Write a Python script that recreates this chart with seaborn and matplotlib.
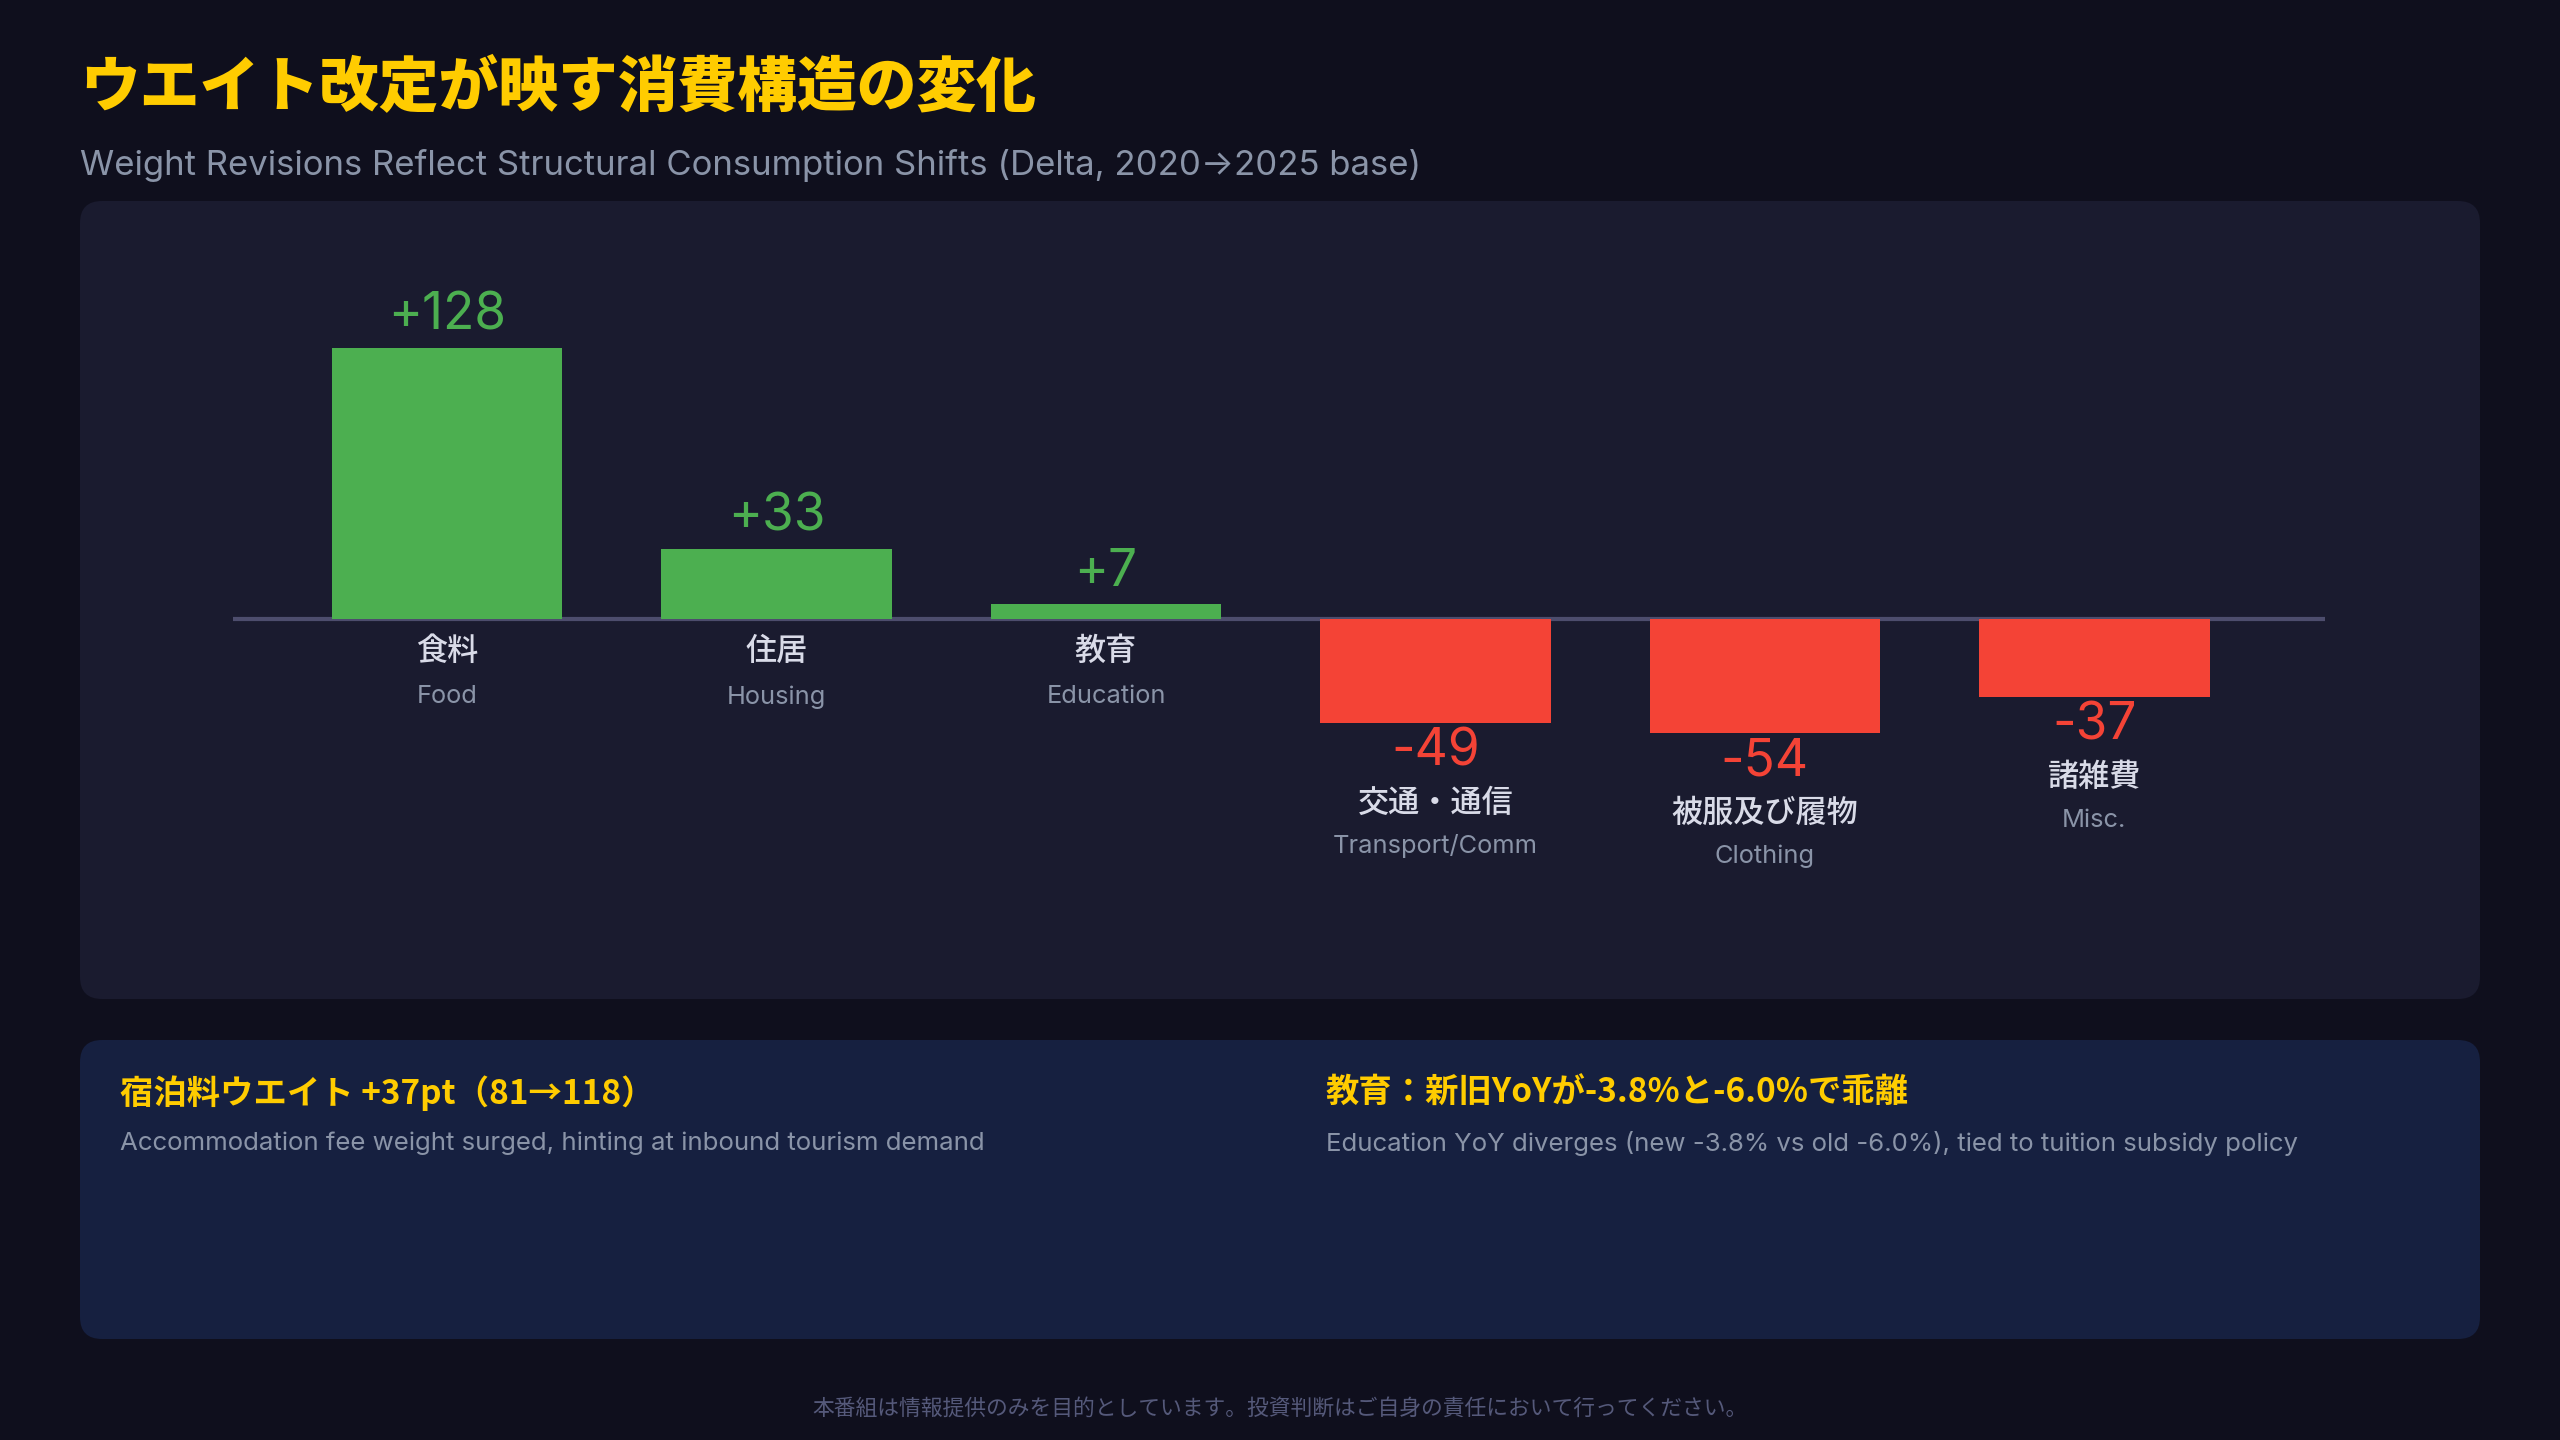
import matplotlib
matplotlib.use("Agg")
import matplotlib.pyplot as plt
from matplotlib.patches import FancyBboxPatch
import seaborn as sns
import pandas as pd

# ---- data ----
categories_jp = ["食料", "住居", "教育", "交通・通信", "被服及び履物", "諸雑費"]
categories_en = ["Food", "Housing", "Education", "Transport/Comm", "Clothing", "Misc."]
delta = [128, 33, 7, -49, -54, -37]

title = "ウエイト改定が映す消費構造の変化"
subtitle = "Weight Revisions Reflect Structural Consumption Shifts (Delta, 2020→2025 base)"
insight_heads = ["宿泊料ウエイト +37pt（81→118）", "教育：新旧YoYが-3.8%と-6.0%で乖離"]
insight_subs = ["Accommodation fee weight surged, hinting at inbound tourism demand",
                "Education YoY diverges (new -3.8% vs old -6.0%), tied to tuition subsidy policy"]
footer = "本番組は情報提供のみを目的としています。投資判断はご自身の責任において行ってください。"

BG = "#0f0f1d"
PANEL = "#1a1b2f"
PANEL2 = "#162040"
GREEN = "#4caf50"
RED = "#f44336"
YELLOW = "#ffcc00"
GREY = "#8a94a8"
LIGHT = "#d9dbe8"

sns.set_theme(style="white")
plt.rcParams["font.family"] = ["Noto Sans CJK JP", "DejaVu Sans"]
LAT = ["Inter", "Noto Sans CJK JP", "DejaVu Sans"]

fig = plt.figure(figsize=(25.6, 14.4), dpi=100)
fig.patch.set_facecolor(BG)

# background / panels in pixel coordinates
bg = fig.add_axes([0, 0, 1, 1])
bg.set_xlim(0, 2560)
bg.set_ylim(1440, 0)
bg.axis("off")
bg.add_patch(FancyBboxPatch((80, 201), 2400, 798, boxstyle="round,pad=0,rounding_size=22",
                            fc=PANEL, ec="none"))
bg.add_patch(FancyBboxPatch((80, 1040), 2400, 299, boxstyle="round,pad=0,rounding_size=22",
                            fc=PANEL2, ec="none"))

bg.text(80, 88, title, color=YELLOW, fontsize=43, fontweight="heavy", va="center", ha="left")
bg.text(80, 166, subtitle, color=GREY, fontsize=25, va="center", ha="left", family=LAT)

for i, (h, s) in enumerate(zip(insight_heads, insight_subs)):
    x0 = 120 if i == 0 else 1326
    bg.text(x0, 1093, h, color=YELLOW, fontsize=24, fontweight="bold", va="center", ha="left")
    bg.text(x0, 1143, s, color=GREY, fontsize=18.6, va="center", ha="left", family=LAT)

bg.text(1280, 1409, footer, color="#55597a", fontsize=15.7, va="center", ha="center")

# ---- bar chart ----
df = pd.DataFrame({"cat": categories_jp, "en": categories_en, "delta": delta})
df["sign"] = ["pos" if v >= 0 else "neg" for v in df["delta"]]

ax = fig.add_axes([0.0910, 0.3349, 0.8172, 0.4927])
ax.set_facecolor("none")
sns.barplot(data=df, x="cat", y="delta", hue="sign", palette={"pos": GREEN, "neg": RED},
            dodge=False, width=0.70, legend=False, ax=ax, saturation=1, linewidth=0)
ax.set_xlim(-0.65, 5.70)
ax.set_ylim(-160, 175)
ax.axhline(0, color="#4d4d6d", lw=3, zorder=0.5)
for sp in ax.spines.values():
    sp.set_visible(False)
ax.set_xticks([])
ax.set_yticks([])
ax.set_xlabel("")
ax.set_ylabel("")

for i, v in enumerate(delta):
    col = GREEN if v >= 0 else RED
    lab = f"+{v}" if v >= 0 else f"{v}"
    if v >= 0:
        ax.annotate(lab, xy=(i, v), xytext=(0, 32), textcoords="offset pixels",
                    ha="center", va="center", color=col, fontsize=37, family=LAT)
        ax.annotate(categories_jp[i], xy=(i, 0), xytext=(0, -32), textcoords="offset pixels",
                    ha="center", va="center", color=LIGHT, fontsize=22.4, fontweight="medium")
        ax.annotate(categories_en[i], xy=(i, 0), xytext=(0, -78), textcoords="offset pixels",
                    ha="center", va="center", color=GREY, fontsize=18.3, family=LAT)
    else:
        ax.annotate(lab, xy=(i, v), xytext=(0, -29), textcoords="offset pixels",
                    ha="center", va="center", color=col, fontsize=37, family=LAT)
        ax.annotate(categories_jp[i], xy=(i, v), xytext=(0, -80), textcoords="offset pixels",
                    ha="center", va="center", color=LIGHT, fontsize=22.4, fontweight="medium")
        ax.annotate(categories_en[i], xy=(i, v), xytext=(0, -123), textcoords="offset pixels",
                    ha="center", va="center", color=GREY, fontsize=18.3, family=LAT)

fig.savefig("out.png", dpi=100, facecolor=BG)
